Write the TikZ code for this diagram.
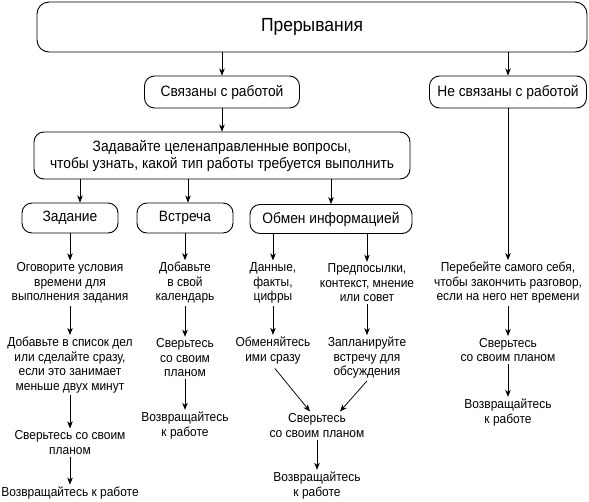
\documentclass[tikz,border=0pt]{standalone}
\usepackage{fontspec}
\setmainfont{Liberation Sans}[FakeStretch=0.92]
\usepackage{tikz}
\usetikzlibrary{positioning,arrows.meta,calc}

\begin{document}
\begin{tikzpicture}[x=1pt,y=-1pt,
  font=\fontsize{13}{14.5}\selectfont,
  b/.style={rectangle,draw,rounded corners=10pt,line width=0.9pt,inner sep=0pt,
            font=\fontsize{15}{17}\selectfont},
  t/.style={align=center,inner sep=2pt},
  a/.style={-{Stealth[length=7pt,width=5.5pt,inset=2pt]},line width=0.75pt},
]
\useasboundingbox (0,0) rectangle (589,501);
% --- top and the two branches ---
\node[b,minimum width=550pt,minimum height=50pt,rounded corners=12pt,
      font=\fontsize{19}{22}\selectfont] (top) at (312,27) {Прерывания};
\node[b,minimum width=155pt,minimum height=32pt] (rel) at (222,92) {Связаны с работой};
\node[b,minimum width=157pt,minimum height=32pt] (unrel) at (508,92) {Не связаны с работой};
\draw[a] (top.south -| rel) -- (rel);
\draw[a] (top.south -| unrel) -- (unrel);
\node[b,minimum width=376pt,minimum height=47pt,align=center] (ask) at (222,155.5)
  {Задавайте целенаправленные вопросы,\\чтобы узнать, какой тип работы требуется выполнить};
\draw[a] (rel) -- (ask);
% --- kinds of work ---
\node[b,minimum width=96pt,minimum height=30pt] (task) at (70,218) {Задание};
\node[b,minimum width=96pt,minimum height=30pt] (meet) at (185,218) {Встреча};
\node[b,minimum width=162pt,minimum height=29pt] (info) at (331,219) {Обмен информацией};
\draw[a] ([xshift=10pt]task.north |- ask.south) -- ([xshift=10pt]task.north);
\draw[a] ([xshift=3pt]meet.north |- ask.south) -- ([xshift=3pt]meet.north);
\draw[a] (info.north |- ask.south) -- (info.north);
% task column
\node[t] (a1) at (70,283) {Оговорите условия\\времени для\\выполнения задания};
\node[t] (a2) at (70,365) {Добавьте в список дел\\или сделайте сразу,\\если это занимает\\меньше двух минут};
\node[t] (a3) at (70,442.5) {Сверьтесь со своим\\планом};
\node[t] (a4) at (70,493) {Возвращайтесь к работе};
\draw[a] (task) -- (a1); \draw[a] (a1) -- (a2); \draw[a] (a2) -- (a3); \draw[a] (a3) -- (a4);
% meeting column
\node[t] (b1) at (185,283) {Добавьте\\в свой\\календарь};
\node[t] (b2) at (185,358) {Сверьтесь\\со своим\\планом};
\node[t] (b3) at (185,425.5) {Возвращайтесь\\к работе};
\draw[a] (meet) -- (b1); \draw[a] (b1) -- (b2); \draw[a] (b2) -- (b3);
% information exchange
\node[t] (c1) at (273,283) {Данные,\\факты,\\цифры};
\node[t] (c2) at (273,350.5) {Обменяйтесь\\ими сразу};
\node[t] (d1) at (367,283) {Предпосылки,\\контекст, мнение\\или совет};
\node[t] (d2) at (367,358) {Запланируйте\\встречу для\\обсуждения};
\node[t] (e1) at (317,425.5) {Сверьтесь\\со своим планом};
\node[t] (e2) at (317,485.5) {Возвращайтесь\\к работе};
\draw[a] (info.south -| c1) -- (c1); \draw[a] (info.south -| d1) -- (d1);
\draw[a] (c1) -- (c2); \draw[a] (d1) -- (d2);
\draw[a,shorten <=3pt] (c2.south) -- ($(e1.north)+(-7,0)$);
\draw[a] (d2.south) -- ($(e1.north)+(23,0)$);
\draw[a] (e1) -- (e2);
% not related to work
\node[t] (f1) at (508,283) {Перебейте самого себя,\\чтобы закончить разговор,\\если на него нет времени};
\node[t] (f2) at (508,350) {Сверьтесь\\со своим планом};
\node[t] (f3) at (508,412.5) {Возвращайтесь\\к работе};
\draw[a] (unrel) -- (f1); \draw[a] (f1) -- (f2); \draw[a] (f2) -- (f3);
\end{tikzpicture}
\end{document}
